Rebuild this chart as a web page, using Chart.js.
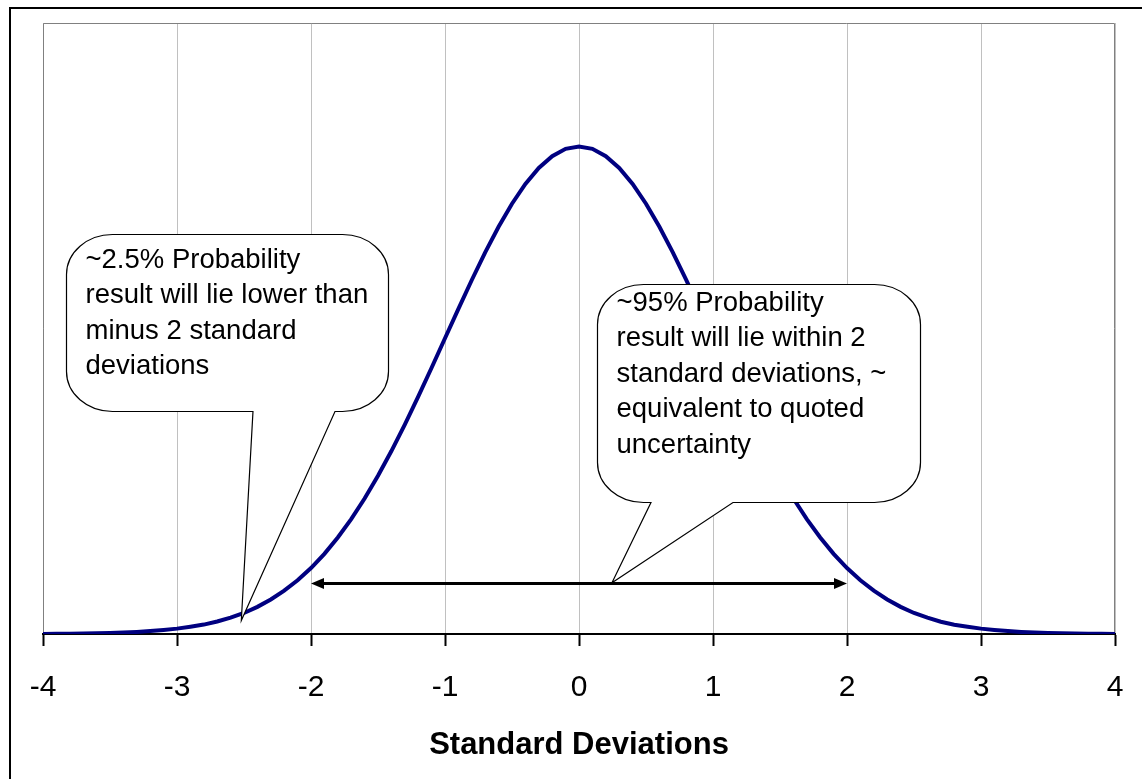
<!DOCTYPE html>
<html lang="en">
<head>
    <meta charset="UTF-8">
    <title>Standard Deviations</title>
    <script src="https://cdn.jsdelivr.net/npm/chart.js"></script>
    <style>
        body { margin: 0; background: #fff; }
        canvas { display: block; }
    </style>
</head>
<body>

<canvas id="myChart" width="1142" height="779"></canvas>

<script>
// values
const sdSteps = [
  -4.0, -3.9, -3.8, -3.7, -3.6, -3.5, -3.4, -3.3, -3.2, -3.1,
  -3.0, -2.9, -2.8, -2.7, -2.6, -2.5, -2.4, -2.3, -2.2, -2.1,
  -2.0, -1.9, -1.8, -1.7, -1.6, -1.5, -1.4, -1.3, -1.2, -1.1,
  -1.0, -0.9, -0.8, -0.7, -0.6, -0.5, -0.4, -0.3, -0.2, -0.1,
   0.0,  0.1,  0.2,  0.3,  0.4,  0.5,  0.6,  0.7,  0.8,  0.9,
   1.0,  1.1,  1.2,  1.3,  1.4,  1.5,  1.6,  1.7,  1.8,  1.9,
   2.0,  2.1,  2.2,  2.3,  2.4,  2.5,  2.6,  2.7,  2.8,  2.9,
   3.0,  3.1,  3.2,  3.3,  3.4,  3.5,  3.6,  3.7,  3.8,  3.9,  4.0
];
const density = [
  0.0001, 0.0002, 0.0003, 0.0004, 0.0006, 0.0009, 0.0012, 0.0017, 0.0024, 0.0033,
  0.0044, 0.0060, 0.0077, 0.0102, 0.0134, 0.0172, 0.0222, 0.0283, 0.0355, 0.0440,
  0.0540, 0.0656, 0.0790, 0.0940, 0.1109, 0.1295, 0.1497, 0.1714, 0.1942, 0.2179,
  0.2420, 0.2661, 0.2897, 0.3123, 0.3332, 0.3521, 0.3683, 0.3814, 0.3910, 0.3970,
  0.3989, 0.3970, 0.3910, 0.3814, 0.3683, 0.3521, 0.3332, 0.3123, 0.2897, 0.2661,
  0.2420, 0.2179, 0.1942, 0.1714, 0.1497, 0.1295, 0.1109, 0.0940, 0.0790, 0.0656,
  0.0540, 0.0440, 0.0355, 0.0283, 0.0222, 0.0172, 0.0134, 0.0100, 0.0076, 0.0060,
  0.0044, 0.0033, 0.0024, 0.0017, 0.0012, 0.0009, 0.0006, 0.0004, 0.0003, 0.0002, 0.0001
];
const xTicks = [-4, -3, -2, -1, 0, 1, 2, 3, 4];
const xTitle = 'Standard Deviations';

const callouts = [
  {
    lines: ['~2.5% Probability', 'result will lie lower than', 'minus 2 standard', 'deviations'],
    box: { x1: -3.83, x2: -1.425, y1: 0.3276, y2: 0.1822 },
    tail: { left: -2.433, right: -1.821, tipX: -2.52, tipY: 0.011 },
    textTop: 33
  },
  {
    lines: ['~95% Probability', 'result will lie within 2', 'standard deviations, ~', 'equivalent to quoted', 'uncertainty'],
    box: { x1: 0.134, x2: 2.545, y1: 0.2868, y2: 0.1078 },
    tail: { left: 0.537, right: 1.149, tipX: 0.246, tipY: 0.042 },
    textTop: 26
  }
];
const arrowSpan = { from: -2, to: 2, y: 0.042 };

const FONT = "'Liberation Sans', Arial, sans-serif";

// outer frame + plot border
const framePlugin = {
  id: 'frame',
  beforeDraw(chart) {
    const ctx = chart.ctx;
    ctx.save();
    ctx.fillStyle = '#fff';
    ctx.fillRect(0, 0, chart.width, chart.height);
    ctx.strokeStyle = '#000';
    ctx.lineWidth = 2;
    ctx.strokeRect(10, 8, chart.width + 20, chart.height + 20);
    ctx.restore();
  },
  beforeDatasetsDraw(chart) {
    const a = chart.chartArea;
    const ctx = chart.ctx;
    ctx.save();
    ctx.strokeStyle = '#808080';
    ctx.lineWidth = 1;
    ctx.beginPath();
    ctx.moveTo(a.left + 0.5, a.bottom);
    ctx.lineTo(a.left + 0.5, a.top + 0.5);
    ctx.lineTo(a.right - 0.5, a.top + 0.5);
    ctx.lineTo(a.right - 0.5, a.bottom);
    ctx.stroke();
    ctx.restore();
  }
};

function calloutPath(ctx, L, T, R, B, rx, ry, bl, br, tx, ty) {
  ctx.beginPath();
  ctx.moveTo(L + rx, T);
  ctx.lineTo(R - rx, T);
  ctx.ellipse(R - rx, T + ry, rx, ry, 0, -Math.PI / 2, 0);
  ctx.lineTo(R, B - ry);
  ctx.ellipse(R - rx, B - ry, rx, ry, 0, 0, Math.PI / 2);
  ctx.lineTo(br, B);
  ctx.lineTo(tx, ty);
  ctx.lineTo(bl, B);
  ctx.lineTo(L + rx, B);
  ctx.ellipse(L + rx, B - ry, rx, ry, 0, Math.PI / 2, Math.PI);
  ctx.lineTo(L, T + ry);
  ctx.ellipse(L + rx, T + ry, rx, ry, 0, Math.PI, Math.PI * 1.5);
  ctx.closePath();
}

const notesPlugin = {
  id: 'notes',
  afterDatasetsDraw(chart) {
    const ctx = chart.ctx;
    const xs = chart.scales.x, ys = chart.scales.y;
    ctx.save();

    // double headed arrow
    const ax1 = xs.getPixelForValue(arrowSpan.from);
    const ax2 = xs.getPixelForValue(arrowSpan.to);
    const ay = Math.round(ys.getPixelForValue(arrowSpan.y)) + 0.5;
    ctx.strokeStyle = '#000';
    ctx.fillStyle = '#000';
    ctx.lineWidth = 3;
    ctx.beginPath();
    ctx.moveTo(ax1 + 8, ay);
    ctx.lineTo(ax2 - 8, ay);
    ctx.stroke();
    [[ax1, 1], [ax2, -1]].forEach(([px, dir]) => {
      ctx.beginPath();
      ctx.moveTo(px, ay);
      ctx.lineTo(px + dir * 13, ay - 5.5);
      ctx.lineTo(px + dir * 13, ay + 5.5);
      ctx.closePath();
      ctx.fill();
    });

    // callout boxes
    callouts.forEach(c => {
      const L = Math.round(xs.getPixelForValue(c.box.x1)) + 0.5;
      const R = Math.round(xs.getPixelForValue(c.box.x2)) + 0.5;
      const T = Math.round(ys.getPixelForValue(c.box.y1)) + 0.5;
      const B = Math.round(ys.getPixelForValue(c.box.y2)) + 0.5;
      const bl = xs.getPixelForValue(c.tail.left);
      const br = xs.getPixelForValue(c.tail.right);
      const tx = xs.getPixelForValue(c.tail.tipX);
      const ty = ys.getPixelForValue(c.tail.tipY);
      calloutPath(ctx, L, T, R, B, 46, 40, bl, br, tx, ty);
      ctx.fillStyle = '#fff';
      ctx.fill();
      ctx.strokeStyle = '#000';
      ctx.lineWidth = 1.2;
      ctx.stroke();

      ctx.fillStyle = '#000';
      ctx.font = '27.5px ' + FONT;
      ctx.textAlign = 'left';
      ctx.textBaseline = 'alphabetic';
      c.lines.forEach((line, i) => {
        ctx.fillText(line, L + 19, T + c.textTop + i * 35.6);
      });
    });

    ctx.restore();
  }
};

const ctx = document.getElementById('myChart').getContext('2d');
const chart = new Chart(ctx, {
  type: 'line',
  data: {
    datasets: [{
      label: 'density',
      data: sdSteps.map((x, i) => ({ x: x, y: density[i] })),
      borderColor: '#000080',
      borderWidth: 4,
      pointRadius: 0,
      tension: 0,
      fill: false
    }]
  },
  options: {
    responsive: false,
    animation: false,
    layout: { padding: { left: 43, top: 23, right: 27, bottom: 0 } },
    plugins: {
      legend: { display: false },
      tooltip: { enabled: false }
    },
    scales: {
      x: {
        type: 'linear',
        min: -4,
        max: 4,
        afterBuildTicks(scale) {
          scale.ticks = xTicks.map(v => ({ value: v }));
        },
        afterFit(scale) {
          scale.height = 145;
          scale.paddingLeft = 0;
          scale.paddingRight = 0;
        },
        grid: {
          color: '#c0c0c0',
          lineWidth: 1,
          drawTicks: true,
          tickLength: 12,
          tickColor: '#000',
          tickWidth: 2
        },
        border: { color: '#000', width: 2 },
        ticks: {
          color: '#000',
          padding: 24,
          maxRotation: 0,
          autoSkip: false,
          font: { family: FONT, size: 30 },
          callback: v => String(v)
        },
        title: {
          display: true,
          text: xTitle,
          color: '#000',
          font: { family: FONT, size: 31, weight: 'bold' },
          padding: { top: 0, bottom: 15 }
        }
      },
      y: {
        display: false,
        min: 0,
        max: 0.5
      }
    }
  },
  plugins: [framePlugin, notesPlugin]
});
</script>

</body>
</html>
